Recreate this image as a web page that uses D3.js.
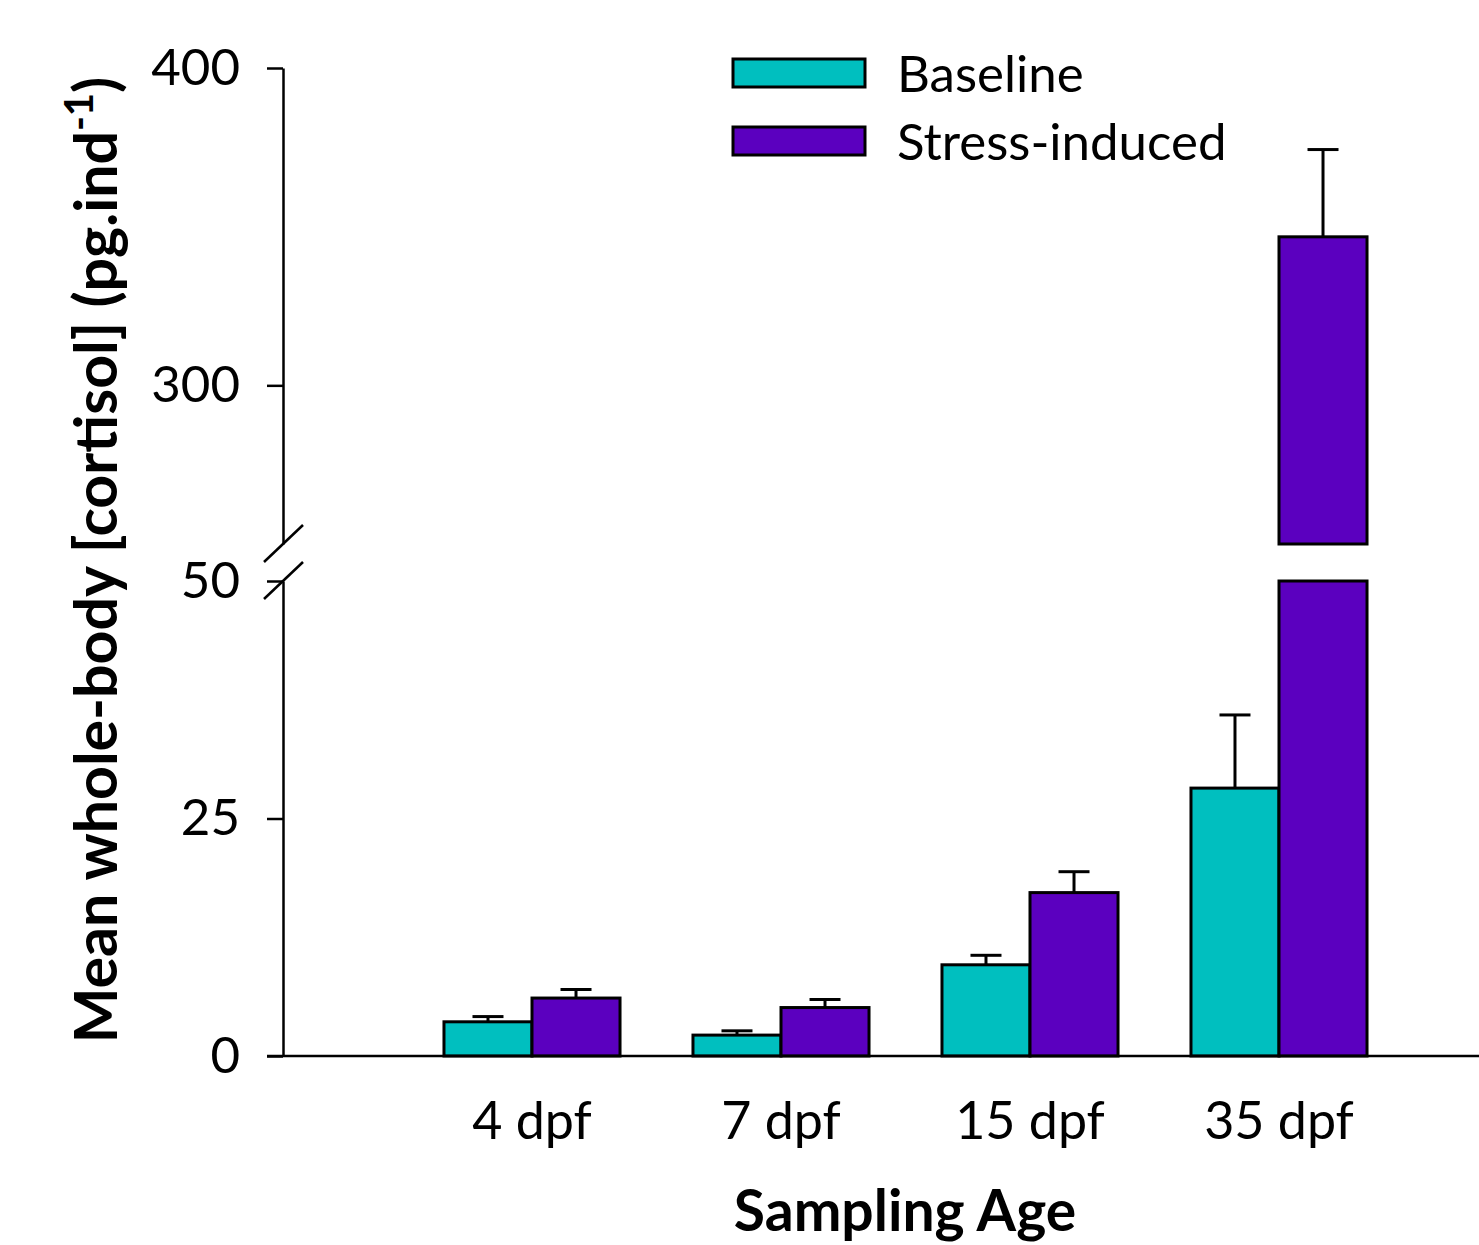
<!DOCTYPE html>
<html>
<head>
<meta charset="utf-8">
<script src="https://cdnjs.cloudflare.com/ajax/libs/d3/7.8.5/d3.min.js"></script>
<style>
  body { margin: 0; background: #fff; }
  text { font-family: Lato, "Open Sans", sans-serif; fill: #000; }
</style>
</head>
<body>
<script>
// data
var categories = ["4 dpf", "7 dpf", "15 dpf", "35 dpf"];
var seriesNames = ["Baseline", "Stress-induced"];
var baseline = [3.6, 2.2, 9.6, 28.2];
var baselineErr = [0.55, 0.45, 1.0, 7.7];
var stress = [6.1, 5.1, 17.2, 346.8];
var stressErr = [0.9, 0.85, 2.2, 27.5];
var lowTicks = [0, 25, 50];
var highTicks = [300, 400];

var colors = ["#00bfbf", "#5b00bf"];

var width = 1479, height = 1245;
var svg = d3.select("body").append("svg")
  .attr("width", width)
  .attr("height", height);

// broken y axis: two linear pieces
var yLow = d3.scaleLinear().domain([0, 50]).range([1056, 581]);
var yHigh = d3.scaleLinear().domain([250, 400]).range([544, 68]);
var axisX = 283;

var x = d3.scaleBand().domain(categories)
  .range([407.5, 1403.5])
  .paddingInner(0.293)
  .paddingOuter(0.1465);
var xs = d3.scaleBand().domain(seriesNames).range([0, x.bandwidth()]);

var rows = [];
categories.forEach(function(c, i){
  rows.push({cat: c, s: seriesNames[0], v: baseline[i], e: baselineErr[i], col: colors[0]});
  rows.push({cat: c, s: seriesNames[1], v: stress[i], e: stressErr[i], col: colors[1]});
});

// lower pieces of the bars
svg.append("g").selectAll("rect").data(rows).enter()
  .append("rect")
  .attr("x", function(d){ return x(d.cat) + xs(d.s); })
  .attr("width", xs.bandwidth())
  .attr("y", function(d){ return yLow(Math.min(d.v, 50)); })
  .attr("height", function(d){ return yLow(0) - yLow(Math.min(d.v, 50)); })
  .attr("fill", function(d){ return d.col; })
  .attr("stroke", "#000")
  .attr("stroke-width", 3);

// upper pieces for values past the break
var tall = rows.filter(function(d){ return d.v > 250; });
svg.append("g").selectAll("rect").data(tall).enter()
  .append("rect")
  .attr("x", function(d){ return x(d.cat) + xs(d.s); })
  .attr("width", xs.bandwidth())
  .attr("y", function(d){ return yHigh(d.v); })
  .attr("height", function(d){ return yHigh(250) - yHigh(d.v); })
  .attr("fill", function(d){ return d.col; })
  .attr("stroke", "#000")
  .attr("stroke-width", 3);

// error bars (upper only)
function yAny(v){ return v > 250 ? yHigh(v) : yLow(v); }
var eb = svg.append("g").attr("stroke", "#000").attr("stroke-width", 3);
rows.forEach(function(d){
  var cx = x(d.cat) + xs(d.s) + xs.bandwidth() / 2;
  eb.append("line").attr("x1", cx).attr("x2", cx)
    .attr("y1", yAny(d.v)).attr("y2", yAny(d.v + d.e));
  eb.append("line").attr("x1", cx - 15.5).attr("x2", cx + 15.5)
    .attr("y1", yAny(d.v + d.e)).attr("y2", yAny(d.v + d.e));
});

// y axes
function styleAxis(g){
  g.selectAll("path, line").attr("stroke", "#000").attr("stroke-width", 2.5);
  g.selectAll("text").style("font-size", "51px").style("font-family", "Lato, sans-serif");
}
svg.append("g").attr("transform", "translate(" + axisX + ",0)")
  .call(d3.axisLeft(yLow).tickValues(lowTicks).tickSize(16).tickSizeOuter(0).tickPadding(27))
  .call(styleAxis);
svg.append("g").attr("transform", "translate(" + axisX + ",0)")
  .call(d3.axisLeft(yHigh).tickValues(highTicks).tickSize(16).tickSizeOuter(0).tickPadding(27))
  .call(styleAxis);

// break marks
[yHigh(250), yLow(50)].forEach(function(yy){
  svg.append("line")
    .attr("x1", axisX - 19).attr("y1", yy + 18)
    .attr("x2", axisX + 20).attr("y2", yy - 19)
    .attr("stroke", "#000").attr("stroke-width", 2.5);
});

// x axis
svg.append("line")
  .attr("x1", axisX - 16).attr("x2", width)
  .attr("y1", yLow(0)).attr("y2", yLow(0))
  .attr("stroke", "#000").attr("stroke-width", 2.5);
svg.append("g").attr("transform", "translate(0," + yLow(0) + ")")
  .call(d3.axisBottom(x).tickSize(0).tickPadding(46))
  .call(function(g){
    g.select(".domain").remove();
    g.selectAll("text").style("font-size", "52px").style("font-family", "Lato, sans-serif");
  });

// axis titles
svg.append("text")
  .attr("x", 905).attr("y", 1231)
  .attr("text-anchor", "middle")
  .style("font-size", "57px").style("font-weight", "bold")
  .text("Sampling Age");

var yt = svg.append("text")
  .attr("transform", "translate(117,560) rotate(-90)")
  .attr("text-anchor", "middle")
  .style("font-size", "59px").style("font-weight", "bold");
yt.append("tspan").text("Mean whole-body [cortisol] (pg.ind");
yt.append("tspan").attr("dy", -24).style("font-size", "40px").text("-1");
yt.append("tspan").attr("dy", 24).text(")");

// legend
var lg = svg.append("g");
seriesNames.forEach(function(s, i){
  lg.append("rect")
    .attr("x", 733).attr("y", 59 + i * 68)
    .attr("width", 132).attr("height", 28)
    .attr("fill", colors[i]).attr("stroke", "#000").attr("stroke-width", 3);
  lg.append("text")
    .attr("x", 897).attr("y", 92 + i * 68)
    .style("font-size", "51px")
    .text(s);
});
</script>
</body>
</html>
